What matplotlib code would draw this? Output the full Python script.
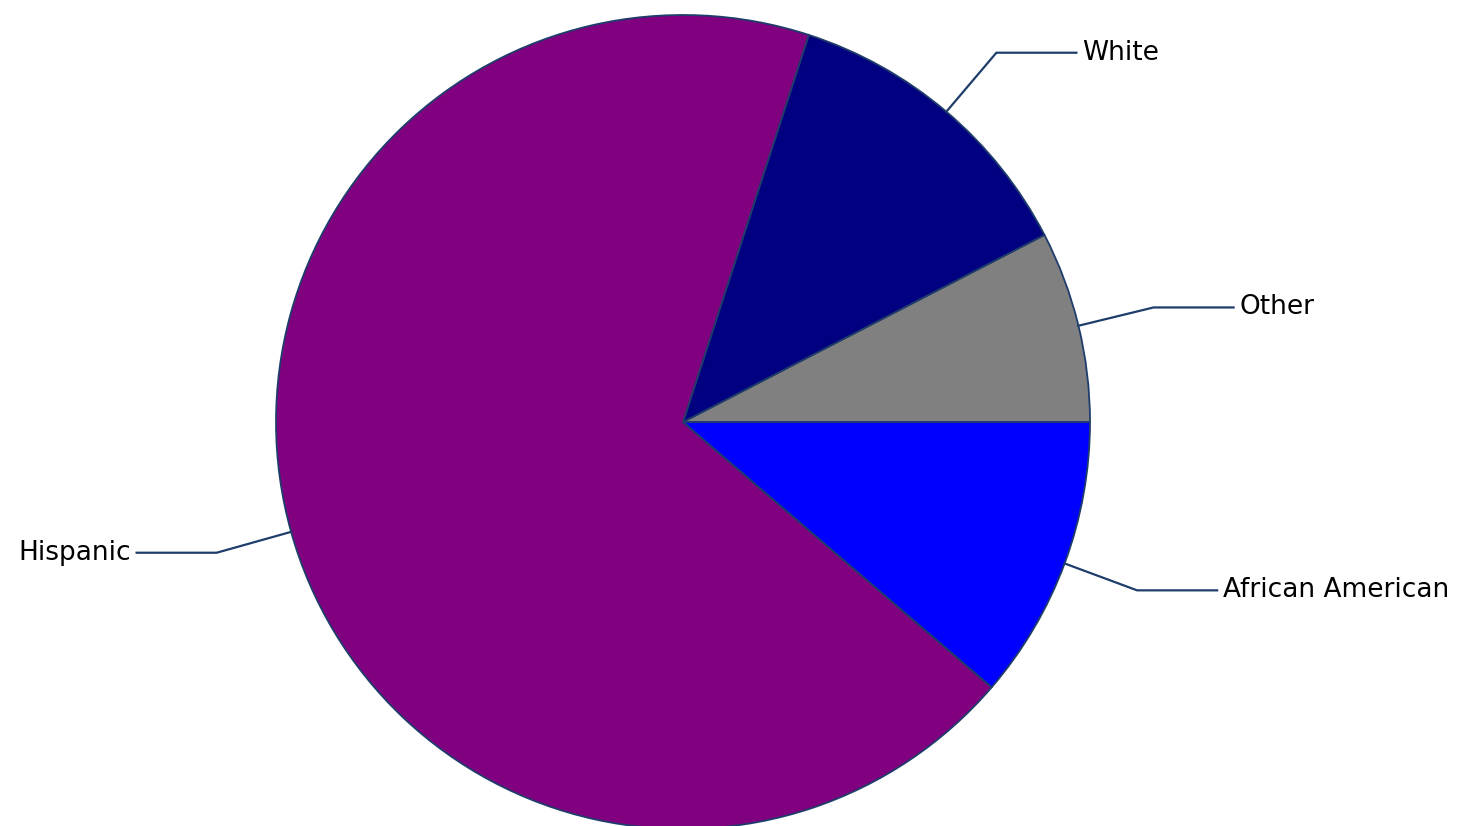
import numpy as np
import matplotlib.pyplot as plt

labels = ["Other", "White", "Hispanic", "African American"]
shares = [7.6, 12.4, 68.7, 11.3]
colors = ["#808080", "#000080", "#800080", "#0000FF"]

line_color = "#1F3D6B"

fig = plt.figure(figsize=(14.58, 8.26), dpi=100)
ax = fig.add_axes([0, 0, 1, 1])

cx, cy, r = 683, 404, 407
wedges, _ = ax.pie(shares, colors=colors, startangle=0, counterclock=True,
                   center=(cx, cy), radius=r, frame=True,
                   wedgeprops=dict(edgecolor=line_color, linewidth=1.3))
ax.set_xlim(0, 1458)
ax.set_ylim(0, 826)
ax.axis("off")

# elbow leader lines + labels
for w, lab in zip(wedges, labels):
    ang = np.deg2rad((w.theta1 + w.theta2) / 2)
    x0, y0 = cx + r * np.cos(ang), cy + r * np.sin(ang)
    x1, y1 = cx + 1.19 * r * np.cos(ang), cy + 1.19 * r * np.sin(ang)
    side = 1 if np.cos(ang) >= 0 else -1
    x2 = x1 + side * 80
    ax.plot([x0, x1, x2], [y0, y1, y1], color=line_color, lw=1.6,
            solid_joinstyle="miter")
    ax.text(x2 + side * 6, y1, lab, ha="left" if side > 0 else "right",
            va="center", fontsize=19, family="DejaVu Sans", color="black")

fig.savefig("out.png", dpi=100)
